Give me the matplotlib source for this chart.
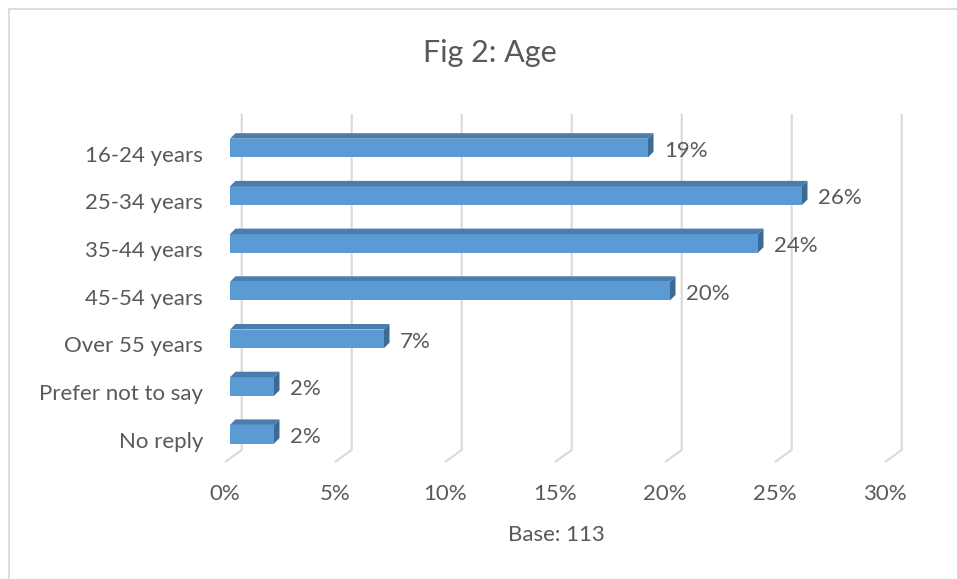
import matplotlib
matplotlib.use("Agg")
import matplotlib.pyplot as plt
from matplotlib.patches import Polygon

# ---- data -------------------------------------------------------------
categories = ["16-24 years", "25-34 years", "35-44 years", "45-54 years",
              "Over 55 years", "Prefer not to say", "No reply"]
values = [19, 26, 24, 20, 7, 2, 2]
value_labels = ["19%", "26%", "24%", "20%", "7%", "2%", "2%"]
x_ticks = [0, 5, 10, 15, 20, 25, 30]
x_tick_labels = ["0%", "5%", "10%", "15%", "20%", "25%", "30%"]
title = "Fig 2: Age"
x_title = "Base: 113"

# ---- layout (canvas pixels) ------------------------------------------
W, H = 957, 579
PX_PER_PCT = 22.0          # horizontal scale of the value axis
ROW_PX = 47.7              # vertical distance between category rows
X0_PX, Y0_PX = 230.0, 148.0  # front of the 0% line / centre of first bar


def xd(px):
    return (px - X0_PX) / PX_PER_PCT


def yd(px):
    return (px - Y0_PX) / ROW_PX


def dx(px):
    return px / PX_PER_PCT


def dy(px):
    return px / ROW_PX


TEXT = "#595959"
GRID = "#D9D9D9"
FRONT = "#5B9BD5"
TOP = "#4A7DAE"
SIDE = "#3D6A94"
FS = 16

plt.rcParams["font.family"] = ["Lato", "DejaVu Sans"]

fig = plt.figure(figsize=(W / 100, H / 100), dpi=100)
ax = fig.add_axes([0, 0, 1, 1])
ax.set_xlim(xd(0), xd(W))
ax.set_ylim(yd(H), yd(0))
ax.axis("off")

# chart frame (top and left edges visible)
ax.plot([xd(9.3), xd(9.3), xd(W + 5)], [yd(H + 5), yd(9.3), yd(9.3)],
        color=GRID, lw=1.3, solid_joinstyle="miter", zorder=0)

# back-wall gridlines with their floor returns
back_dx = dx(11.7)
floor_dx, floor_dy = dx(-16.7), dy(12)
grid_top, grid_bot = yd(114), yd(450)
for t in x_ticks:
    xb = t + back_dx
    ax.plot([xb, xb, xb + floor_dx], [grid_top, grid_bot, grid_bot + floor_dy],
            color=GRID, lw=1.5, zorder=1, solid_capstyle="butt")

# 3-D bars: front face, top face and right side face
half_h = dy(9.3)
depth_x, depth_y = dx(5.5), dy(-5.5)
for i, v in enumerate(values):
    top, bot = i - half_h, i + half_h
    front = Polygon([(0, top), (v, top), (v, bot), (0, bot)],
                    closed=True, facecolor=FRONT, edgecolor="none", zorder=3)
    roof = Polygon([(0, top), (depth_x, top + depth_y),
                    (v + depth_x, top + depth_y), (v, top)],
                   closed=True, facecolor=TOP, edgecolor="none", zorder=3)
    side = Polygon([(v, top), (v + depth_x, top + depth_y),
                    (v + depth_x, bot + depth_y), (v, bot)],
                   closed=True, facecolor=SIDE, edgecolor="none", zorder=3)
    for p in (front, roof, side):
        ax.add_patch(p)
    ax.text(v + dx(16), i + dy(8.7), value_labels[i], color=TEXT,
            fontsize=FS, ha="left", va="baseline", zorder=4)
    ax.text(xd(203), i + dy(13.5), categories[i], color=TEXT,
            fontsize=FS, ha="right", va="baseline", zorder=4)

# value-axis tick labels along the front edge of the floor
for t, lab in zip(x_ticks, x_tick_labels):
    ax.text(t + back_dx + floor_dx, yd(500), lab, color=TEXT, fontsize=FS,
            ha="center", va="baseline")

ax.text(xd(556), yd(541), x_title, color=TEXT, fontsize=FS,
        ha="center", va="baseline")
ax.text(xd(490), yd(61.7), title, color=TEXT, fontsize=22,
        ha="center", va="baseline")

fig.savefig("out.png", dpi=100, facecolor="white")
